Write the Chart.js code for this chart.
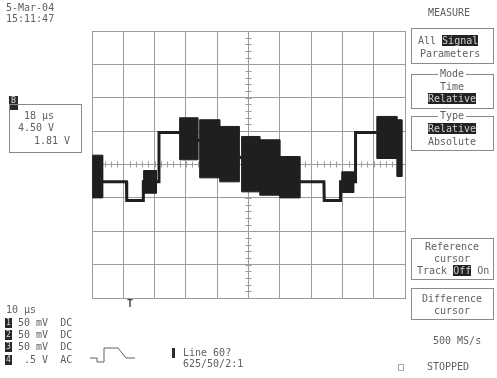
<!DOCTYPE html>
<html>
<head>
<meta charset="utf-8">
<script src="https://cdn.jsdelivr.net/npm/chart.js@4.4.1/dist/chart.umd.min.js"></script>
<style>
  body { margin: 0; background: #fff; }
  #wrap { position: relative; width: 497px; height: 378px; overflow: hidden;
          font-family: "DejaVu Sans Mono", "Liberation Mono", monospace; font-size: 10px; color: #606060; }
  #scope { position: absolute; left: 0; top: 0; }
  .t { position: absolute; white-space: pre; line-height: 10px; }
  .c { text-align: center; width: 82px; }
  .box { position: absolute; border: 1px solid #8a8a8a; box-sizing: border-box; }
  .hi { background: #232323; color: #cfcfcf; }
  .lbl { background: #fff; padding: 0 2px; }
  .mk { position: absolute; background: #2a2a2a; color: #ddd; font-size: 8px; line-height: 10px; text-align: center; }
</style>
</head>
<body>
<div id="wrap">
  <canvas id="scope" width="497" height="378"></canvas>

  <!-- date / time -->
  <div class="t" style="left:6px;top:3px">5-Mar-04</div>
  <div class="t" style="left:6px;top:14px">15:11:47</div>

  <!-- right hand menu -->
  <div class="t" style="left:428px;top:8px">MEASURE</div>

  <div class="box" style="left:411px;top:28px;width:83px;height:36px"></div>
  <div class="t" style="left:418px;top:36px">All <span class="hi">Signal</span></div>
  <div class="t" style="left:420px;top:49px">Parameters</div>

  <div class="box" style="left:411px;top:74px;width:83px;height:35px"></div>
  <div class="t c" style="left:411px;top:69px"><span class="lbl">Mode</span></div>
  <div class="t c" style="left:411px;top:82px">Time</div>
  <div class="t c" style="left:411px;top:94px"><span class="hi">Relative</span></div>

  <div class="box" style="left:411px;top:116px;width:83px;height:35px"></div>
  <div class="t c" style="left:411px;top:111px"><span class="lbl">Type</span></div>
  <div class="t c" style="left:411px;top:124px"><span class="hi">Relative</span></div>
  <div class="t c" style="left:411px;top:137px">Absolute</div>

  <div class="box" style="left:411px;top:238px;width:83px;height:42px"></div>
  <div class="t c" style="left:411px;top:242px">Reference</div>
  <div class="t c" style="left:411px;top:254px">cursor</div>
  <div class="t" style="left:417px;top:266px">Track <span class="hi">Off</span> On</div>

  <div class="box" style="left:411px;top:288px;width:83px;height:32px"></div>
  <div class="t c" style="left:411px;top:294px">Difference</div>
  <div class="t c" style="left:411px;top:306px">cursor</div>

  <div class="t" style="left:433px;top:336px">500 MS/s</div>
  <div class="t" style="left:398px;top:362px">□</div>
  <div class="t" style="left:427px;top:362px">STOPPED</div>

  <!-- left cursor readout -->
  <div class="mk" style="left:9px;top:96px;width:9px;height:14px">B</div>
  <div class="box" style="left:9px;top:104px;width:73px;height:49px"></div>
  <div class="t" style="left:24px;top:111px">18 µs</div>
  <div class="t" style="left:18px;top:123px">4.50 V</div>
  <div class="t" style="left:34px;top:136px">1.81 V</div>

  <!-- trigger marker under grid -->
  <div class="t" style="left:127px;top:299px;font-weight:bold;color:#444">T</div>

  <!-- bottom left channel info -->
  <div class="t" style="left:6px;top:305px">10 µs</div>
  <div class="mk" style="left:5px;top:318px;width:7px">1</div>
  <div class="t" style="left:18px;top:318px">50 mV  DC</div>
  <div class="mk" style="left:5px;top:330px;width:7px">2</div>
  <div class="t" style="left:18px;top:330px">50 mV  DC</div>
  <div class="mk" style="left:5px;top:342px;width:7px">3</div>
  <div class="t" style="left:18px;top:342px">50 mV  DC</div>
  <div class="mk" style="left:5px;top:355px;width:7px">4</div>
  <div class="t" style="left:18px;top:355px"> .5 V  AC</div>
  <svg style="position:absolute;left:0;top:0" width="497" height="378">
    <polyline points="90,358 97,358 97,362 104,362 104,348 118,348 126,358 135,358"
              fill="none" stroke="#606060" stroke-width="1"/>
  </svg>
  <div class="mk" style="left:172px;top:348px;width:3px;height:10px"></div>
  <div class="t" style="left:183px;top:348px">Line 60?</div>
  <div class="t" style="left:183px;top:359px">625/50/2:1</div>
</div>

<script>
// time in µs (10 µs/div), level in mV (50 mV/div)
const traceTime  = [0.4, 3.4, 11.0, 11.1, 16.3, 16.4, 21.3, 21.4, 28.0, 66.4, 74.1, 74.2, 79.3, 79.4, 84.1, 84.2, 91.0];
const traceLevel = [-26, -26, -26, -54, -54, -26, -26, 48, 48, -26, -26, -54, -54, -26, -26, 48, 48];

// thick (chroma / burst) blocks
const blockStart = [0.2, 16.5, 28.0, 34.4, 40.8, 47.8, 53.6, 60.0, 79.8, 91.0, 97.4];
const blockEnd   = [3.4, 20.6, 33.8, 40.8, 47.0, 53.6, 60.0, 66.4, 83.6, 97.4, 99.0];
const blockHigh  = [14, -9, 70, 67, 57, 42, 37, 12, -11, 72, 67];
const blockLow   = [-50, -43, 7, -20, -26, -41, -46, -50, -42, 9, -18];

const ink = '#1f1f1f';
const gridColor = '#9c9c9c';

const blockSets = blockStart.map((s, i) => ({
  data: [
    { x: s, y: blockLow[i] }, { x: s, y: blockHigh[i] },
    { x: blockEnd[i], y: blockHigh[i] }, { x: blockEnd[i], y: blockLow[i] },
    { x: s, y: blockLow[i] }
  ],
  showLine: true,
  fill: 'shape',
  backgroundColor: ink,
  borderColor: ink,
  borderWidth: 1,
  pointRadius: 0
}));

const traceSet = {
  data: traceTime.map((t, i) => ({ x: t, y: traceLevel[i] })),
  showLine: true,
  borderColor: ink,
  borderWidth: 3,
  pointRadius: 0,
  fill: false
};

// small ticks along the centre cross of the graticule
const centreTicks = {
  id: 'centreTicks',
  beforeDatasetsDraw(chart) {
    const { ctx, scales: { x, y } } = chart;
    const x0 = x.getPixelForValue(50), y0 = y.getPixelForValue(0);
    ctx.save();
    ctx.strokeStyle = gridColor;
    ctx.lineWidth = 1;
    ctx.beginPath();
    for (let t = 0; t <= 100; t += 2) {
      const px = Math.round(x.getPixelForValue(t)) + 0.5;
      ctx.moveTo(px, y0 - 3); ctx.lineTo(px, y0 + 3);
    }
    for (let v = -200; v <= 200; v += 10) {
      const py = Math.round(y.getPixelForValue(v)) + 0.5;
      ctx.moveTo(x0 - 3, py); ctx.lineTo(x0 + 3, py);
    }
    ctx.stroke();
    ctx.restore();
  }
};

new Chart(document.getElementById('scope'), {
  type: 'scatter',
  data: { datasets: [...blockSets, traceSet] },
  options: {
    responsive: false,
    animation: false,
    devicePixelRatio: 1,
    layout: { padding: { left: 92, top: 31, right: 92, bottom: 80 } },
    plugins: { legend: { display: false }, tooltip: { enabled: false } },
    scales: {
      x: {
        type: 'linear', min: 0, max: 100,
        ticks: { display: false, stepSize: 10 },
        grid: { color: gridColor, lineWidth: 1, drawTicks: false },
        border: { color: gridColor }
      },
      y: {
        type: 'linear', min: -200, max: 200,
        ticks: { display: false, stepSize: 50 },
        grid: { color: gridColor, lineWidth: 1, drawTicks: false },
        border: { color: gridColor }
      }
    }
  },
  plugins: [centreTicks]
});
</script>
</body>
</html>
